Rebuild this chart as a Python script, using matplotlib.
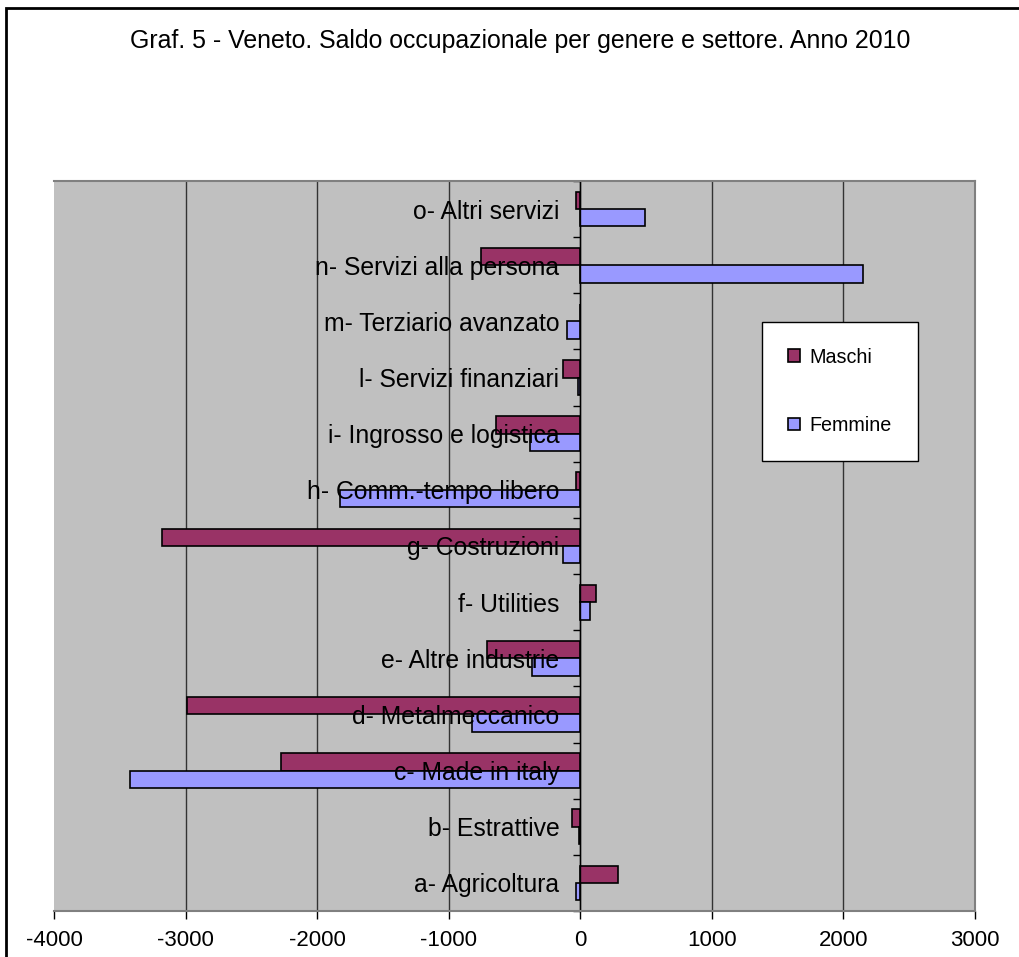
import matplotlib
matplotlib.use("Agg")
import matplotlib.pyplot as plt
import matplotlib.patches as mpatches
import numpy as np

plt.rcParams['font.family'] = ['Liberation Sans', 'DejaVu Sans']

title = "Graf. 5 - Veneto. Saldo occupazionale per genere e settore. Anno 2010"
categories = ["a- Agricoltura", "b- Estrattive", "c- Made in italy", "d- Metalmeccanico",
              "e- Altre industrie", "f- Utilities", "g- Costruzioni", "h- Comm.-tempo libero",
              "i- Ingrosso e logistica", "l- Servizi finanziari", "m- Terziario avanzato",
              "n- Servizi alla persona", "o- Altri servizi"]
maschi = [290, -60, -2275, -2990, -711, 120, -3182, -35, -640, -133, 0, -757, -35]
femmine = [-32, -12, -3420, -825, -365, 75, -130, -1825, -379, -20, -103, 2146, 493]
series_names = ["Maschi", "Femmine"]
xticks = [-4000, -3000, -2000, -1000, 0, 1000, 2000, 3000]

W, H = 1020, 957
fig = plt.figure(figsize=(W / 100, H / 100), dpi=100)
fig.patch.set_facecolor('white')

# outer chart border (partially cropped on right/bottom)
fig.patches.append(mpatches.Rectangle((6 / W, -0.1), 2.0, 1 - 8 / H + 0.1,
                                      transform=fig.transFigure, fill=False,
                                      edgecolor='black', lw=2))

fig.text(520 / W, 1 - 41 / H, title, ha='center', va='center', fontsize=17.9)

left, right, top, bottom = 54, 975, 181, 911
ax = fig.add_axes([left / W, 1 - bottom / H, (right - left) / W, (bottom - top) / H])
ax.set_facecolor('#C0C0C0')

y = np.arange(len(categories))
h = 0.31
c_m, c_f = '#993366', '#9999FF'
ax.barh(y + h / 2, maschi, height=h, color=c_m, edgecolor='black', lw=1.2, zorder=1,
        label=series_names[0])
ax.barh(y - h / 2, femmine, height=h, color=c_f, edgecolor='black', lw=1.2, zorder=1,
        label=series_names[1])

ax.set_xlim(xticks[0], xticks[-1])
ax.set_ylim(-0.5, len(categories) - 0.5)

for v in xticks[1:-1]:
    ax.axvline(v, color='#333333', lw=1, zorder=0.5)

ax.set_xticks(xticks)
ax.set_xticklabels([str(v) for v in xticks], fontsize=16)
ax.tick_params(axis='x', direction='out', length=6, width=1, pad=8, colors='black')

ax.spines['left'].set_position(('data', 0))
ax.spines['left'].set_color('black')
ax.spines['left'].set_linewidth(1)
for s in ['top', 'right', 'bottom']:
    ax.spines[s].set_color('#808080')
    ax.spines[s].set_linewidth(1.5)

ax.set_yticks(y)
ax.set_yticklabels(categories, fontsize=17.8)
ax.tick_params(axis='y', which='major', length=0, pad=15)
ax.set_yticks(np.arange(-0.5, len(categories)), minor=True)
ax.tick_params(axis='y', which='minor', length=5, width=1, direction='out', color='black')

leg = ax.legend(loc='upper left', bbox_to_anchor=(762 / W, 1 - 322 / H),
                bbox_transform=fig.transFigure, borderaxespad=0, frameon=True,
                fancybox=False, fontsize=14.2, handlelength=0.62, handleheight=0.62,
                handletextpad=0.5, labelspacing=2.5, borderpad=1.3)
leg.get_frame().set_edgecolor('black')
leg.get_frame().set_linewidth(1)
leg.get_frame().set_facecolor('white')
leg.get_frame().set_alpha(1)

fig.savefig('out.png', dpi=100)
